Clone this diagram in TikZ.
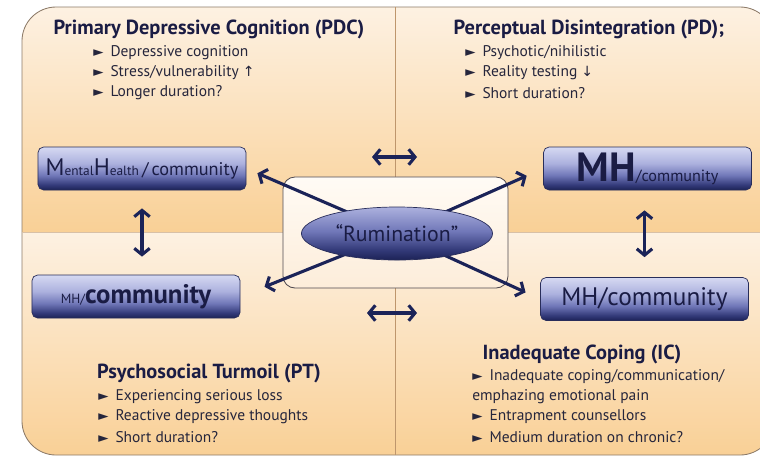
\documentclass[tikz,border=0pt]{standalone}
\usepackage{fontspec}
\setmainfont{PT Sans}
\newfontfamily\symfont{DejaVu Sans}
\usetikzlibrary{arrows.meta,shapes.geometric}
\definecolor{inknavy}{RGB}{26,28,68}
\definecolor{itemgray}{RGB}{38,38,60}
\definecolor{arrownavy}{RGB}{27,35,88}
\definecolor{peachlight}{RGB}{253,241,226}
\definecolor{peachdeep}{RGB}{249,208,150}
\definecolor{framebrown}{RGB}{140,122,104}
\definecolor{splitbrown}{RGB}{190,150,108}
\definecolor{boxlight}{RGB}{214,217,242}
\definecolor{boxsoft}{RGB}{172,177,222}
\definecolor{boxmid}{RGB}{112,119,184}
\definecolor{boxdeep}{RGB}{52,59,122}
\definecolor{boxdark}{RGB}{28,34,86}
\definecolor{boxedge}{RGB}{40,45,90}
\definecolor{coretop}{RGB}{255,251,245}
\definecolor{corebot}{RGB}{253,237,218}
\definecolor{coreedge}{RGB}{80,74,80}
\pgfdeclareverticalshading{mhshade}{100bp}{color(0bp)=(boxdark); color(25bp)=(boxdark); color(31bp)=(boxdeep); color(42bp)=(boxmid); color(56bp)=(boxsoft); color(75bp)=(boxlight); color(100bp)=(boxlight)}
\pgfdeclareverticalshading{rumshade}{100bp}{color(0bp)=(boxdark); color(25bp)=(boxdark); color(35bp)=(boxdeep); color(52bp)=(boxmid); color(75bp)=(boxsoft); color(100bp)=(boxsoft)}
\newcommand{\bul}{{\symfont\fontsize{9.5}{9.5}\selectfont ►}\hspace{0.45em}}
\newcommand{\arrup}{{\symfont\fontsize{10}{10}\selectfont ↑}}
\newcommand{\arrdown}{{\symfont\fontsize{10}{10}\selectfont ↓}}

\begin{document}
\begin{tikzpicture}[x=0.025cm, y=-0.025cm,
    mhbox/.style={rectangle, rounded corners=4pt, draw=boxedge, line width=0.5pt,
      shade, shading=mhshade, minimum width=5.2cm, minimum height=1.075cm,
      inner sep=0pt, text=inknavy},
    title/.style={text=inknavy, font=\fontsize{14.5}{16}\selectfont\bfseries},
    item/.style={anchor=west, text=itemgray, font=\fontsize{11}{13}\selectfont, inner sep=0pt},
    link/.style={arrownavy, line width=2.2pt, -{Straight Barb[length=4.5pt,width=11pt]}},
    twoway/.style={arrownavy, line width=2.2pt,
      {Straight Barb[length=4.5pt,width=11pt]}-{Straight Barb[length=4.5pt,width=11pt]}}]
    \useasboundingbox (0,0) rectangle (760,456);
    \clip (0,0) rectangle (760,456);

    % Four quadrants inside one rounded frame
    \begin{scope}
      \clip[rounded corners=0.85cm] (22,7) rectangle (774,455);
      \shade[top color=peachlight, bottom color=peachdeep] (22,7) rectangle (395,232);
      \shade[top color=peachlight, bottom color=peachdeep] (395,7) rectangle (774,232);
      \shade[top color=peachlight, bottom color=peachdeep] (22,232) rectangle (395,455);
      \shade[top color=peachlight, bottom color=peachdeep] (395,232) rectangle (774,455);
    \end{scope}
    \draw[framebrown, line width=0.6pt, rounded corners=0.85cm] (22,7) rectangle (774,455);
    \draw[splitbrown, line width=0.5pt] (395,7) -- (395,455);
    \draw[splitbrown!60, line width=0.3pt] (22,232) -- (774,232);

    % Primary Depressive Cognition
    \node[title] (pdc) at (209,29) {Primary Depressive Cognition (PDC)};
    \node[item] (pdc1) at (93,53) {\bul Depressive cognition};
    \node[item] (pdc2) at (93,73) {\bul Stress/vulnerability \arrup};
    \node[item] (pdc3) at (93,93) {\bul Longer duration?};

    % Perceptual Disintegration
    \node[title] (pd) at (589,29) {Perceptual Disintegration (PD);};
    \node[item] (pd1) at (465,53) {\bul Psychotic/nihilistic};
    \node[item] (pd2) at (465,73) {\bul Reality testing \arrdown};
    \node[item] (pd3) at (465,93) {\bul Short duration?};

    % Psychosocial Turmoil
    \node[title] (pt) at (209,373) {Psychosocial Turmoil (PT)};
    \node[item] (pt1) at (98,397) {\bul Experiencing serious loss};
    \node[item] (pt2) at (98,417) {\bul Reactive depressive thoughts};
    \node[item] (pt3) at (98,437) {\bul Short duration?};

    % Inadequate Coping
    \node[title] (ic) at (582,354) {Inadequate Coping (IC)};
    \node[item] (ic1) at (472,377) {\bul Inadequate coping/communication/};
    \node[item] (ic1b) at (472,397) {emphazing emotional pain};
    \node[item] (ic2) at (472,417) {\bul Entrapment counsellors};
    \node[item] (ic3) at (472,437) {\bul Medium duration on chronic?};

    % Mental health / community boxes
    \node[mhbox] (mhtl) at (142,168.5) {{\fontsize{17}{17}\selectfont M}{\fontsize{9.5}{9.5}\selectfont ental}{\fontsize{17}{17}\selectfont H}{\fontsize{9.5}{9.5}\selectfont ealth}{\fontsize{13}{13}\selectfont\,/\,community}};
    \node[mhbox] (mhbl) at (136,296.5) {{\fontsize{9.5}{9.5}\selectfont MH/}{\fontsize{19}{19}\selectfont\bfseries community}};
    \node[mhbox] (mhtr) at (647.5,168.5) {{\fontsize{29}{29}\selectfont\bfseries MH}{\fontsize{11.5}{11.5}\selectfont/community}};
    \node[mhbox] (mhbr) at (644.5,299) {\fontsize{18}{18}\selectfont MH/community};

    % Rumination core
    \node[rectangle, rounded corners=0.3cm, draw=coreedge, line width=0.6pt,
      top color=coretop, bottom color=corebot,
      minimum width=5.625cm, minimum height=2.775cm] (frame) at (395.5,232.5) {};
    \coordinate (core) at (397,233.5);
    \draw[link, shorten >=0.3cm] (core) -- (mhtl.east);
    \draw[link, shorten >=0.45cm] (core) -- (mhtr.west);
    \draw[link, shorten >=0.65cm] (core) -- (mhbl.east);
    \draw[link, shorten >=0.4cm] (core) -- (mhbr.west);
    \node[ellipse, draw=boxedge, line width=0.5pt, shade, shading=rumshade,
      minimum width=4.775cm, minimum height=1.325cm, inner sep=0pt,
      text=inknavy, font=\fontsize{15.5}{15.5}\selectfont] (rum) at (core) {“Rumination”};

    % Two-way links
    \draw[twoway, shorten <=0.45cm, shorten >=0.45cm] (mhtl.south) -- (mhtl.south |- mhbl.north);
    \draw[twoway, shorten <=0.5cm, shorten >=0.5cm] (mhbr.north |- mhtr.south) -- (mhbr.north);
    \coordinate (pdcgap) at (372,157);
    \coordinate (pdgap) at (417,157);
    \coordinate (ptgap) at (367,313);
    \coordinate (icgap) at (417,313);
    \draw[twoway] (pdcgap) -- (pdgap);
    \draw[twoway] (ptgap) -- (icgap);
\end{tikzpicture}
\end{document}
